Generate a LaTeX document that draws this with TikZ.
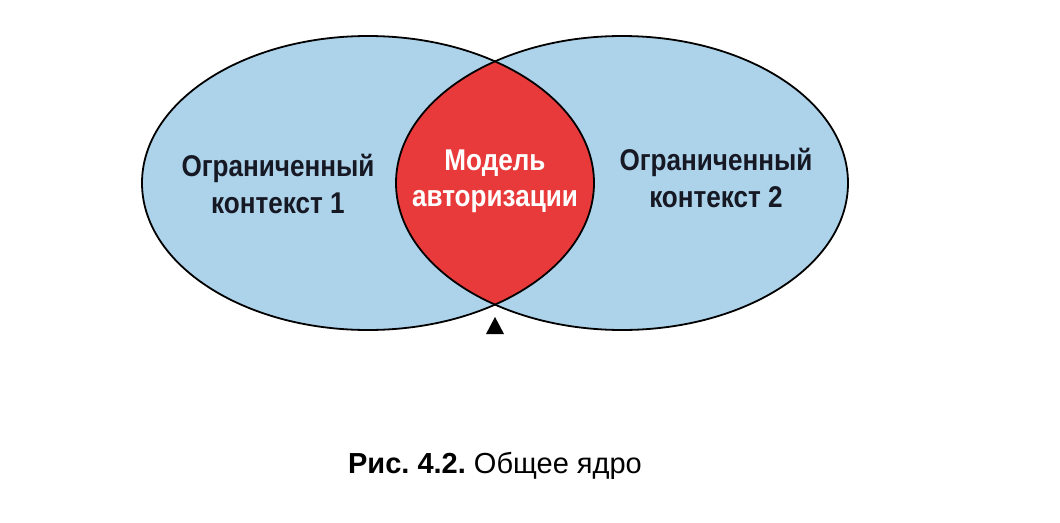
\documentclass[tikz,border=0pt]{standalone}
\usepackage{fontspec}
\setmainfont{Liberation Sans}
\newfontfamily\narrowsans[FakeStretch=0.87]{Liberation Sans}
\frenchspacing
\definecolor{venblue}{RGB}{173,211,234}
\definecolor{venred}{RGB}{232,58,58}
\definecolor{ventext}{RGB}{22,24,36}
\begin{document}
\begin{tikzpicture}[x=1pt,y=-1pt,
  outline/.style={draw=black,line width=1.8pt},
  ctxlabel/.style={align=center,text=ventext,font=\narrowsans\fontsize{30}{37}\selectfont\bfseries},
  corelabel/.style={align=center,text=white,font=\narrowsans\fontsize{30}{36}\selectfont\bfseries}]
\useasboundingbox (0,0) rectangle (1060,522);
\fill[white] (0,0) rectangle (1060,522);
% ellipses
\fill[venblue] (368,183) ellipse [x radius=226, y radius=147];
\fill[venblue] (622,183) ellipse [x radius=226, y radius=147];
\begin{scope}
  \clip (368,183) ellipse [x radius=226, y radius=147];
  \fill[venred] (622,183) ellipse [x radius=226, y radius=147];
\end{scope}
\draw[outline] (368,183) ellipse [x radius=226, y radius=147];
\draw[outline] (622,183) ellipse [x radius=226, y radius=147];
% marker triangle
\coordinate (tipA) at (495,317);
\fill[black] (tipA) -- (504,334) -- (486,334) -- cycle;
% labels
\node[ctxlabel] (ctx1) at (278,184) {Ограниченный\\контекст 1};
\node[corelabel] (core) at (495,181) {Модель\\авторизации};
\node[ctxlabel] (ctx2) at (716,178) {Ограниченный\\контекст 2};
\node[font=\fontsize{29}{34}\selectfont] (cap) at (495,466) {\textbf{Рис. 4.2.} Общее ядро};
\end{tikzpicture}
\end{document}
